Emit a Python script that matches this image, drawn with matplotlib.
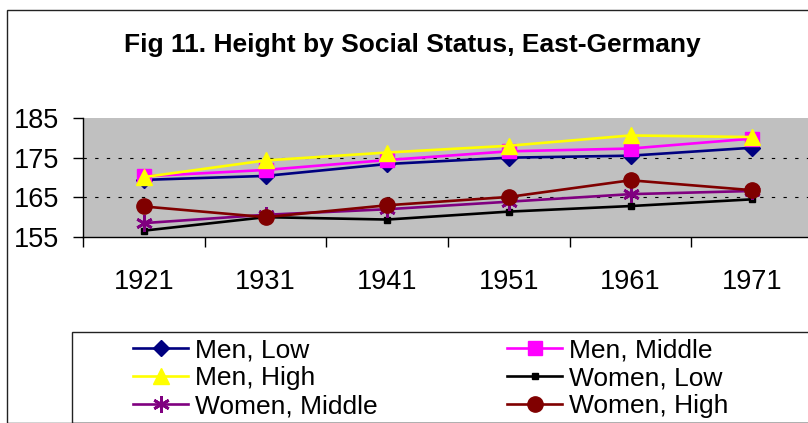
import matplotlib
matplotlib.use("Agg")
import matplotlib.pyplot as plt
from matplotlib.patches import Rectangle

plt.rcParams['font.family'] = ['Liberation Sans', 'DejaVu Sans']
plt.rcParams['lines.scale_dashes'] = False

years = ['1921', '1931', '1941', '1951', '1961', '1971']
men_low = [169.4, 170.4, 173.4, 175.0, 175.5, 177.5]
men_middle = [170.3, 171.9, 174.4, 176.6, 177.3, 179.8]
men_high = [170.1, 174.3, 176.3, 178.0, 180.6, 180.2]
women_low = [156.6, 160.0, 159.4, 161.4, 162.8, 164.5]
women_middle = [158.5, 160.6, 162.0, 163.9, 165.8, 166.6]
women_high = [162.7, 160.0, 163.0, 165.1, 169.3, 166.8]
y_ticks = [155, 165, 175, 185]
grid_vals = [165, 175]
title = 'Fig 11. Height by Social Status, East-Germany'

W, H = 808, 423
fig = plt.figure(figsize=(W / 100, H / 100), dpi=100)
fig.patch.set_facecolor('white')

# outer chart border
fig.patches.append(Rectangle((7 / W, 0), 1.2, 1 - 10.5 / H, transform=fig.transFigure,
                             fill=False, edgecolor='#222222', linewidth=1.0))

ax = fig.add_axes([83 / W, 1 - 237 / H, 730 / W, 119 / H])
ax.set_facecolor('#C0C0C0')
x = list(range(len(years)))

for g in grid_vals:
    ax.axhline(g, color='black', linewidth=0.8, linestyle=(0, (2.4, 6.0)), zorder=1)

series = [
    ('Men, Low', men_low, '#000080', 'D', 8.5, {}),
    ('Men, Middle', men_middle, '#FF00FF', 's', 10.5, {}),
    ('Men, High', men_high, '#FFFF00', '^', 11, {}),
    ('Women, Low', women_low, '#000000', 's', 4.5, {}),
    ('Women, Middle', women_middle, '#800080', (6, 2, 0), 12, {'markeredgewidth': 2.0}),
    ('Women, High', women_high, '#800000', 'o', 11, {}),
]
handles = []
for i, (lab, vals, col, mk, ms, kw) in enumerate(series):
    ln, = ax.plot(x, vals, color=col, linewidth=1.9, marker=mk, markersize=ms,
                  markerfacecolor=col, markeredgecolor=col, label=lab, zorder=3 + i,
                  clip_on=False, **kw)
    handles.append(ln)

ax.set_xlim(-0.5, len(years) - 0.5)
ax.set_ylim(155, 185)
ax.set_yticks(y_ticks)
ax.set_yticklabels([str(v) for v in y_ticks])
ax.set_xticks(x)
ax.set_xticklabels(years)
ax.set_xticks([i - 0.5 for i in range(len(years) + 1)], minor=True)
ax.tick_params(axis='x', which='major', length=0, pad=23, labelsize=19.5)
ax.tick_params(axis='x', which='minor', length=7, width=1, direction='out', color='black')
ax.tick_params(axis='y', which='major', length=7, width=1, direction='out', pad=10, labelsize=19.5)
for s in ['top', 'right']:
    ax.spines[s].set_visible(False)
for s in ['left', 'bottom']:
    ax.spines[s].set_color('black')
    ax.spines[s].set_linewidth(1.0)

fig.text(412 / W, 1 - 52 / H, title, ha='center', va='baseline',
         fontsize=19, fontweight='bold')

# legend box
fig.patches.append(Rectangle((72 / W, 0), 1.2, 1 - 331.5 / H, transform=fig.transFigure,
                             fill=False, edgecolor='#222222', linewidth=1.0))
# row-wise order like the reference: (Men Low, Men Middle), (Men High, Women Low), ...
order = [0, 2, 4, 1, 3, 5]
leg = fig.legend([handles[i] for i in order], [series[i][0] for i in order],
                 ncol=2, loc='upper left', bbox_to_anchor=(133 / W, 1 - 338 / H),
                 frameon=False, fontsize=19, handlelength=2.1, handletextpad=0.25,
                 columnspacing=4.9, labelspacing=0.16, borderpad=0, borderaxespad=0,
                 markerscale=1.0)

fig.savefig('out.png', dpi=100)
